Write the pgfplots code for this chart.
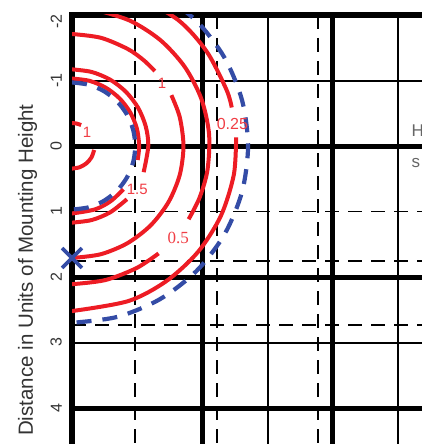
\documentclass[border=0pt]{standalone}
\usepackage{fontspec}
\setmainfont{Liberation Sans}
\newfontfamily\seriffont{Liberation Serif}
\usepackage{pgfplots}
\pgfplotsset{compat=1.18}
\definecolor{cred}{RGB}{237,28,36}
\definecolor{cblue}{RGB}{52,76,166}

\begin{document}
\begin{tikzpicture}
\pgfplotsset{
  chartgeom/.style={
    at={(72pt,429pt)}, anchor=north west,
    x=65.2pt, y=65.5pt, y dir=reverse,
    xmin=0, xmax=5.5, ymin=-2, ymax=4.6,
  },
}
\tikzset{
  redline/.style={cred, line width=4pt, smooth},
  blueline/.style={cblue, line width=4.2pt, smooth, dash pattern=on 15pt off 11pt},
  lbl/.style={text=cred!85, inner sep=1pt, font=\fontsize{15}{15}\selectfont},
}

% grid and curves
\begin{axis}[chartgeom,
  axis line style={line width=6pt},
  xtick={0,2,4}, xticklabels={},
  minor xtick={3,5},
  ytick={-2,0,2,4}, yticklabels={},
  minor ytick={-1,3},
  extra x ticks={0.97,2.23,3.77}, extra x tick labels={},
  extra y ticks={1,1.76,2.73}, extra y tick labels={},
  extra tick style={grid=major, major grid style={black, line width=1.8pt, dash pattern=on 14pt off 9pt}},
  grid=both,
  major grid style={black, line width=5pt},
  minor grid style={black, line width=2pt},
  major tick length=0pt, minor tick length=0pt,
]
% small "1"
\addplot[redline] coordinates {(0,-0.35) (0.07,-0.343) (0.14,-0.32)};
\addplot[redline] coordinates {(0.340,0.060) (0.299,0.173) (0.222,0.264) (0.118,0.324) (0,0.345)};
% "1.5" inner and outer
\addplot[redline] coordinates {(0,-1.03) (0.267,-0.995) (0.515,-0.892) (0.728,-0.728) (0.892,-0.515) (0.995,-0.267) (1.03,0) (1.007,0.214)};
\addplot[redline] coordinates {(0.789,0.662) (0.591,0.844) (0.352,0.968) (0,1.03)};
\addplot[redline] coordinates {(0,-1.17) (0.303,-1.130) (0.585,-1.013) (0.827,-0.827) (1.013,-0.585) (1.130,-0.303) (1.17,0) (1.099,0.400)};
\addplot[redline] coordinates {(0.842,0.813) (0.585,1.013) (0.303,1.130) (0,1.17)};
% "1"
\addplot[redline] coordinates {(0,-1.71) (0.443,-1.652) (0.855,-1.481) (1.099,-1.310) (1.271,-1.144)};
\addplot[redline] coordinates {(1.524,-0.776) (1.652,-0.443) (1.71,0) (1.652,0.443) (1.481,0.855) (1.209,1.209) (0.855,1.481) (0.443,1.652) (0,1.71)};
% "0.5"
\addplot[redline] coordinates {(0.366,-2.078) (0.892,-1.912) (1.356,-1.616) (1.728,-1.210) (1.983,-0.722) (2.102,-0.184) (2.078,0.366) (1.956,0.790) (1.789,1.118)};
\addplot[redline] coordinates {(1.328,1.640) (0.991,1.863) (0.510,2.047) (0,2.11)};
% "0.25"
\addplot[redline] coordinates {(0.862,-2.368) (1.620,-1.930) (2.064,-1.445) (2.368,-0.862) (2.450,-0.588)};
\addplot[redline] coordinates {(2.517,-0.132) (2.482,0.438) (2.284,1.065) (1.930,1.620) (1.445,2.064) (0.862,2.368) (0,2.52)};
% blue dashed
\addplot[blueline] coordinates {(0,-0.97) (0.251,-0.937) (0.485,-0.840) (0.686,-0.686) (0.840,-0.485) (0.937,-0.251) (0.97,0) (0.937,0.251) (0.840,0.485) (0.686,0.686) (0.485,0.840) (0.251,0.937) (0,0.97)};
\addplot[blueline] coordinates {(1.35,-2.338) (1.909,-1.909) (2.338,-1.35) (2.608,-0.699) (2.7,0) (2.608,0.699) (2.338,1.35) (1.909,1.909) (1.35,2.338) (0.699,2.608) (0,2.7)};
\addplot[cblue, line width=3.6pt, only marks, mark=x, mark size=14pt] coordinates {(0,1.71)};
% contour labels
\node[lbl] at (axis cs:1.38,-0.96) {1};
\node[lbl] at (axis cs:0.23,-0.21) {1};
\node[lbl] at (axis cs:1.0,0.67) {1.5};
\node[lbl, font=\seriffont\fontsize{17}{17}\selectfont] at (axis cs:1.63,1.40) {0.5};
\node[lbl, font=\fontsize{16}{16}\selectfont] at (axis cs:2.46,-0.33) {0.25};
\end{axis}

% tick labels and axis title
\begin{axis}[chartgeom,
  axis line style={draw=none},
  xtick=\empty,
  ytick={-1.9,-1,0,1,2,3,4},
  yticklabels={-2,-1,0,1,2,3,4},
  major tick length=0pt,
  yticklabel style={rotate=90, anchor=south, inner sep=0pt, text=black!80, font=\fontsize{16}{16}\selectfont},
  yticklabel shift=10pt,
  ylabel={Distance in Units of Mounting Height},
  ylabel style={at={(axis description cs:-0.124,0.41)}, anchor=center, text=black!80, font=\fontsize{20.5}{20.5}\selectfont},
]
\end{axis}

\node[anchor=west, inner sep=0pt, text=black!60, font=\fontsize{17}{17}\selectfont] at (411.5pt,313pt) {H};
\node[anchor=west, inner sep=0pt, text=black!60, font=\fontsize{17}{17}\selectfont] at (411.5pt,281pt) {s};

\pgfresetboundingbox
\useasboundingbox (0,0) rectangle (422pt,444pt);
\end{tikzpicture}
\end{document}
